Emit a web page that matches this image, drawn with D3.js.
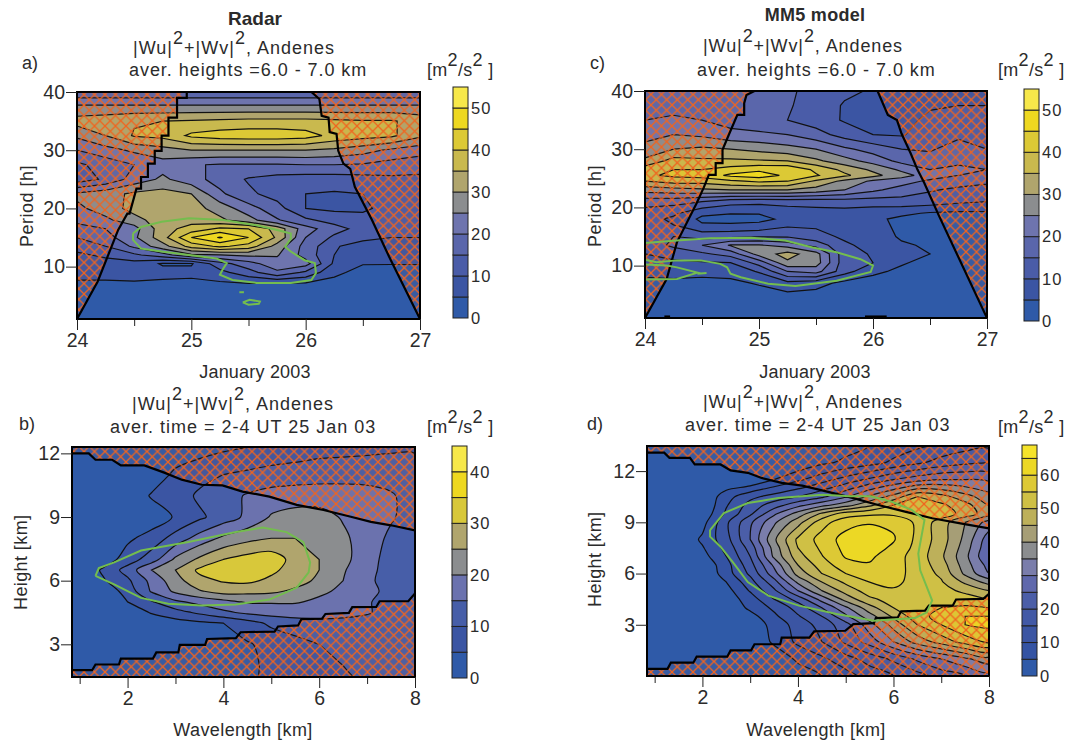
<!DOCTYPE html>
<html>
<head>
<meta charset="utf-8">
<script src="https://cdn.jsdelivr.net/npm/d3@7"></script>
<style>
  html, body { margin: 0; padding: 0; background: #fff; }
  svg { display: block; }
  text { font-family: "Liberation Sans", Arial, sans-serif; fill: #2b2b2b; }
</style>
</head>
<body>
<svg id="chart" width="1065" height="742"></svg>
<script>
// contour levels, [m2/s2]
var levels55 = [0, 5, 10, 15, 20, 25, 30, 35, 40, 45, 50];
var levels45 = [0, 5, 10, 15, 20, 25, 30, 35, 40];
var levels70 = [0, 5, 10, 15, 20, 25, 30, 35, 40, 45, 50, 55, 60, 65];

var colors55 = ["#2f5aa8", "#3b55a3", "#4a5ca8", "#5a66ab", "#6e74ae", "#8b8d8f", "#b0a56d", "#c9b94e", "#dcc935", "#eed820", "#f7e84a"];
var colors45 = ["#2f5aa8", "#3b55a3", "#475ea8", "#6b72ae", "#8b8d8f", "#b0a56d", "#d8c83a", "#eed820", "#f7e84a"];
var colors70 = ["#2f5aa8", "#3453a3", "#3b55a3", "#4259a6", "#4b5ea8", "#5f68ac", "#7a7dab", "#8b8d8f", "#a69e76", "#bdb05a", "#cfc045", "#ddc935", "#ecd825", "#f5e32a"];

// time axis of the two upper panels
var days = [24, 24.25, 24.5, 24.75, 25, 25.25, 25.5, 25.75, 26, 26.25, 26.5, 26.75, 27];
var dayTicks = [24, 25, 26, 27];
var dayMinorTicks = [24.5, 25.5, 26.5];
var periodTicks = [10, 20, 30, 40];

// a) radar, period vs time
var periodsA = [40, 37.5, 35, 32.5, 30, 27.5, 25, 22.5, 20, 18, 16.5, 15, 13.5, 12, 10.5, 9, 7, 4, 1];
var gridA = [
  [16, 16, 16, 16, 16, 16, 16, 16, 16, 16, 16, 16, 16],
  [26, 26, 26, 26, 26, 26, 26, 26, 26, 26, 26, 26, 26],
  [32, 33, 34.5, 35, 35.5, 36, 36.5, 36.5, 36.5, 36, 35.5, 35.5, 33],
  [26, 30, 35.5, 36.5, 41, 42.5, 43, 43, 42, 38.5, 37, 36, 31],
  [20, 23, 26, 28, 30, 30, 30, 30, 30, 29, 27, 24, 22],
  [14, 17, 20, 23, 20.5, 19.5, 19.5, 19.5, 20, 20, 19.5, 18, 17],
  [12, 16, 22, 26, 22, 18, 14.5, 13, 12.5, 12.5, 13, 14, 14],
  [26, 28, 31, 32, 30, 21, 16, 13, 10, 9.5, 10, 12, 13],
  [24, 27, 32, 33, 32, 28, 22, 17, 10, 9, 9.5, 11, 12],
  [22, 24, 28, 33, 33, 31, 27, 20.5, 16, 13, 11, 11, 11],
  [17, 20, 23, 33, 37, 41, 40, 33, 22, 17, 13, 11, 11],
  [15, 18, 24, 33, 45, 50.5, 45, 34, 20, 14, 12.5, 10, 10],
  [12, 15, 21, 28, 37, 41, 38, 28, 18, 11, 6, 8, 9],
  [9, 11, 14, 18, 24, 25, 26, 25.5, 18, 10, 7, 8, 8],
  [8, 8, 8, 4.5, 4.5, 13, 18, 23, 22, 9, 5.2, 5.2, 5.2],
  [7, 7, 6.5, 6.5, 6.5, 8.5, 13, 19, 14, 6, 3.5, 3, 3],
  [4, 4, 4.5, 4, 3.5, 4, 4.5, 4, 4, 3.5, 2.5, 2.5, 2.5],
  [2, 2, 2, 2, 2, 2, 2, 2, 2, 2, 2, 2, 2],
  [1, 1, 1, 1, 1, 1, 1, 1, 1, 1, 1, 1, 1]
];
var coneA = [[24, 1], [24.18, 7.4], [24.36, 16.3], [24.44, 19.1], [24.46, 19.1], [24.52, 23.4], [24.56, 23.4], [24.56, 25.4], [24.62, 25.4], [24.62, 27.7], [24.68, 27.7], [24.68, 29.9], [24.74, 29.9], [24.74, 32.5], [24.8, 32.5], [24.8, 35.6], [24.875, 35.6], [24.875, 39], [24.96, 39], [24.96, 40],
  [26.05, 40], [26.12, 38.8], [26.14, 35.9], [26.2, 35.6], [26.21, 33.1], [26.27, 32.8], [26.285, 29.9], [26.33, 27.7], [26.39, 26.8], [26.43, 23.7], [26.58, 18], [26.73, 11.7], [27, 1]];
var signifA = [
  [[24.49, 15.7], [24.56, 16.8], [24.74, 17.7], [24.98, 18.3], [25.28, 18], [25.57, 17.1], [25.75, 16.3], [25.87, 15.7], [25.87, 14.8], [25.82, 13.4], [25.87, 12.6], [25.99, 11.1], [26.08, 10.6], [26.09, 8.9], [26.05, 7.7], [25.87, 7.2], [25.57, 7.2], [25.36, 7.7], [25.25, 8.6], [25.28, 9.7], [25.31, 10.6], [25.22, 11.4], [24.98, 12], [24.74, 12.6], [24.56, 13.1], [24.49, 14.6], [24.49, 15.7]],
  [[25.45, 3.85], [25.51, 4.3], [25.6, 4], [25.59, 3.6], [25.5, 3.45], [25.45, 3.85]],
  [[25.42, 5.6], [25.46, 5.6]]
];

// c) MM5 model, period vs time
var periodsC = [40, 37.5, 35, 32.5, 30, 28, 26.5, 25.5, 24.5, 23, 21, 19, 18, 17, 15, 13.5, 12, 10.5, 9, 7, 4, 1];
var gridC = [
  [17, 17, 17, 17, 17, 15.5, 14, 11, 9.5, 8.5, 8.5, 8.5, 8.5],
  [18, 18, 17.5, 17, 16.5, 15.5, 13, 9.5, 8, 8, 9.5, 10, 10],
  [20, 21, 20, 18, 16.5, 15, 12.5, 9.5, 8, 8.5, 11, 12, 12.5],
  [23, 25, 24, 21.5, 21, 20, 17, 13, 10, 9.5, 13, 14, 14],
  [27, 30, 31, 30, 28.5, 27, 25, 21, 18, 15, 14.5, 17, 15],
  [31, 37, 36, 36, 35.5, 35, 31, 27, 23, 18.5, 17, 19, 19],
  [38, 40, 40, 42, 44, 44, 39, 33.5, 29, 24, 20, 21, 20],
  [39, 41, 42, 46, 47.5, 44, 40.5, 36, 31.5, 27, 22.5, 20, 18],
  [35, 37, 37, 39, 41, 40, 34, 28.5, 24, 22, 19, 17, 16],
  [27, 28, 29, 30, 30, 30, 28, 25, 21, 18, 15.5, 14, 13],
  [17, 17, 15, 12, 11.5, 12, 12, 12.5, 12.5, 13, 12.5, 11, 10],
  [13, 11, 6, 5.2, 5.2, 7, 8, 8, 7, 6, 4.5, 4, 4],
  [12, 9, 4, 3.5, 3.8, 6, 8, 8, 6, 4, 3.5, 3, 3],
  [13, 10, 5.5, 5.5, 6, 9, 9, 8, 6.5, 4, 3, 3, 3],
  [14, 15, 13, 13.5, 14.5, 14.5, 12, 9, 7, 4.5, 3, 3, 3],
  [12, 16, 20, 25.5, 25.5, 23, 18, 11, 8, 5.5, 4.5, 3.5, 3],
  [10, 12, 14, 17, 27, 32, 27, 12, 9.5, 7, 5, 3.5, 3],
  [7, 9, 9.5, 10, 17, 29, 27.5, 12, 10, 5.5, 3.5, 3, 3],
  [7, 7.5, 6.5, 7, 10.5, 20, 22, 12, 6, 4, 3, 3, 3],
  [3, 3.5, 3.5, 3.8, 5.5, 8.5, 7, 3.5, 3, 3, 3, 3, 3],
  [1.5, 1.5, 1.5, 1.5, 1.5, 1.5, 1.5, 1.5, 1.5, 1.5, 1.5, 1.5, 1.5],
  [1, 1, 1, 1, 1, 1, 1, 1, 1, 1, 1, 1, 1]
];
var coneC = [[24, 1], [24.19, 7.7], [24.28, 14], [24.455, 20.8], [24.515, 23.4], [24.56, 25.6], [24.62, 25.6], [24.62, 27.6], [24.68, 27.6], [24.68, 29.9], [24.74, 32.7], [24.81, 35.9], [24.87, 35.9], [24.87, 37.9], [24.89, 39.3], [24.96, 40],
  [26.04, 40], [26.13, 35.9], [26.21, 35], [26.25, 32.7], [26.33, 29.3], [26.39, 26.5], [26.45, 24.2], [26.58, 18.5], [27, 1]];
// two short black slivers sitting on the time axis
var sliversC = [[[24.17, 1.25], [24.22, 1.25]], [[25.93, 1.25], [26.12, 1.25]]];
var signifC = [
  [[24, 13.9], [24.28, 14.3], [24.57, 14.7], [24.93, 14.8], [25.23, 14.3], [25.47, 13.1], [25.68, 12.3], [25.89, 11.1], [26, 10], [25.98, 8.9], [25.68, 7.4], [25.32, 6.5], [25.08, 6.9], [24.84, 8], [24.75, 8.6], [24.72, 9.7], [24.66, 10.3], [24.49, 10.9], [24.28, 10.9], [24.1, 10.6], [24, 11]],
  [[24, 10.2], [24.19, 10], [24.28, 9.7], [24.46, 8.8], [24.28, 7.7], [24, 7.6]],
  [[24.46, 8.6], [24.54, 8.75]]
];

// wavelength axis of the two lower panels
var wavelengths = [0.5, 1, 1.5, 2, 2.5, 3, 3.5, 4, 4.5, 5, 5.5, 6, 6.5, 7, 7.5, 8];
var wavelengthTicks = [2, 4, 6, 8];
var wavelengthMinorTicks = [1, 3, 5, 7];
var heightTicks = [3, 6, 9, 12];

// b) radar, height vs wavelength
var heightsB = [12.5, 11, 10, 9, 8, 7, 6.5, 6, 5.5, 5, 4.5, 4, 3, 2, 1.4];
var gridB = [
  [0, 0, 0, 0, 1, 1, 2, 3, 4, 5, 6, 7, 7.5, 8, 8.5, 9],
  [0, 0, 0, 1, 2, 6, 8, 10, 11, 12, 12.5, 13, 13, 13, 13, 12],
  [0, 0, 0, 1, 5.5, 7, 11, 13, 15.5, 17, 17.5, 17.5, 17.5, 17, 15.5, 13],
  [0, 0, 0, 0.5, 2, 5.5, 9, 12.5, 16, 20.5, 22, 22, 19.5, 17.5, 15.5, 13],
  [0, 0, 0, 4, 7, 12, 17, 21, 23.5, 25, 25, 23, 21, 17.5, 14, 11.5],
  [0, 0, 2, 7.5, 12.5, 21, 26, 30, 32, 33, 28, 25, 21.5, 17, 13, 11],
  [0, 0, 6, 12, 20, 25, 31, 33, 33.5, 31, 28, 25, 20.5, 16.5, 13, 11],
  [0, 0, 4.5, 9, 16.5, 23, 28.5, 30.5, 31, 29, 27, 24, 20, 16, 13, 11],
  [0, 0, 1.5, 7, 15.5, 21, 24.5, 27, 26.5, 26, 24, 21, 19, 17, 13, 11],
  [0, 0, 0, 5, 9.5, 14, 16.5, 18.5, 20.5, 20.5, 20.5, 19, 17, 15.5, 13, 11],
  [0, 0, 0, 1, 5.5, 8, 11, 14, 16, 17, 17, 16.5, 16, 15.5, 13, 11],
  [0, 0, 0, 0, 1, 3, 4, 5, 8, 11, 13, 14, 14, 13, 12, 11],
  [0, 0, 0, 0, 0, 1, 2, 3, 4.5, 6.5, 8, 10, 11, 11, 11, 11],
  [0, 0, 0, 0, 0, 0, 1, 3, 4.5, 5.5, 7, 8, 10, 10.5, 11, 11],
  [0, 0, 0, 0, 0, 0, 1, 3, 4.5, 5.5, 7, 8, 9.5, 10.5, 11, 11]
];
var coneTopB = [[0.84, 12], [1.19, 12], [1.33, 11.7], [1.68, 11.7], [1.86, 11.43], [2.35, 11.43], [2.78, 11.08], [3.13, 10.76], [3.55, 10.52], [3.98, 10.49], [4.4, 10.2], [4.96, 9.96], [5.53, 9.57], [6.09, 9.33], [6.66, 9.01], [7.08, 8.77], [7.5, 8.61], [8, 8.37]];
var coneBottomB = [[8, 5.4], [7.86, 5.03], [7.26, 5.03], [7.19, 4.76], [6.69, 4.75], [6.62, 4.48], [6.13, 4.43], [6.06, 4.21], [5.63, 4.19], [5.56, 3.89], [5.14, 3.84], [5.07, 3.6], [4.36, 3.57], [4.26, 3.29], [3.66, 3.25], [3.62, 2.97], [3.09, 2.97], [3.06, 2.62], [2.6, 2.62], [2.53, 2.33], [1.86, 2.33], [1.82, 2.05], [1.33, 2.05], [1.26, 1.78], [0.84, 1.78]];
var signifB = [
  [[1.33, 6.23], [1.4, 6.59], [1.72, 6.86], [2.28, 7.42], [3.27, 7.82], [4.26, 8.29], [4.82, 8.5], [5.32, 8.29], [5.67, 7.82], [5.81, 6.86], [5.78, 6.39], [5.53, 5.67], [4.96, 5.11], [4.26, 4.88], [3.55, 4.83], [2.85, 4.91], [2.28, 5.19], [1.72, 5.83], [1.33, 6.23]]
];

// d) MM5 model, height vs wavelength
var heightsD = [13.5, 12.5, 11.5, 10.5, 10, 9.5, 9, 8, 7.5, 7, 6.5, 6, 5.5, 5, 4.5, 4, 3.5, 3, 2, 1, 0];
var gridD = [
  [0, 0, 0, 0, 0, 0, 0, 0, 1, 3, 5, 7, 9, 11, 13, 14],
  [0, 0, 0, 0, 0, 0, 0, 1, 4, 6, 8, 11, 14, 17, 19, 20],
  [0, 0, 0, 0, 0, 0, 5, 9, 13, 17, 21, 25, 28, 30, 30, 29],
  [0, 0, 0, 0, 8, 13.6, 17, 20, 24, 29.5, 36, 42, 50, 47, 42, 37],
  [0, 0, 0, 0, 9.5, 17, 22.5, 28.5, 33.5, 38, 44, 50, 51, 51, 47, 40],
  [0, 0, 0, 1, 11, 19, 29, 37, 46, 52.5, 54, 54, 54.5, 53, 48, 42],
  [0, 0, 0, 3, 14, 24, 34, 43, 53, 58, 59.5, 59, 54, 47.5, 40, 33],
  [0, 0, 0, 6, 13, 25, 39, 51, 57, 62, 63.5, 60.5, 53.7, 47.5, 38.6, 27],
  [0, 0, 0, 4.5, 11.5, 22, 37, 50, 56, 61.5, 62.5, 59, 53.3, 46.8, 37.5, 26],
  [0, 0, 0, 3, 10, 20, 36, 48, 54.7, 60.5, 61, 57, 53, 46, 36.5, 25],
  [0, 0, 0, 1, 8, 18, 31, 45, 52.5, 58, 59.5, 57, 53, 47.5, 37.5, 28],
  [0, 0, 0, 0, 7.7, 16, 28, 42, 50, 55, 57.5, 57, 53, 49, 39, 30],
  [0, 0, 0, 0, 5, 13, 23, 36, 45, 51, 55, 56, 53.5, 50.5, 44, 38],
  [0, 0, 0, 0, 3, 10.5, 19, 30, 40, 47, 52.5, 54.5, 53.5, 51.5, 49, 45],
  [0, 0, 0, 0, 2, 7.5, 15, 22, 32, 42, 49, 52, 52, 54, 52, 50],
  [0, 0, 0, 0, 0, 6.3, 11, 17, 25, 34, 43, 50, 54, 55, 56, 55],
  [0, 0, 0, 0, 0, 3, 9, 14.5, 20, 29, 38, 46, 53, 57, 60, 60],
  [0, 0, 0, 0, 0, 1, 7, 12, 17, 23, 33, 42, 50, 55, 60, 61],
  [0, 0, 0, 0, 0, 0, 6, 11, 15, 21, 27, 35, 42, 47, 52, 56],
  [0, 0, 0, 0, 0, 0, 1, 6, 9, 13, 17, 21, 26, 30, 34, 38],
  [0, 0, 0, 0, 0, 0, 0, 2, 5, 8, 12, 15, 18, 22, 25, 28]
];
var coneTopD = [[0.84, 13.08], [1.2, 13.08], [1.31, 12.78], [1.74, 12.78], [1.84, 12.39], [2.38, 12.39], [2.59, 12.04], [2.95, 11.9], [3.24, 11.6], [3.66, 11.31], [4.09, 11.15], [4.59, 10.81], [5.16, 10.42], [5.66, 10.03], [6.24, 9.63], [6.81, 9.24], [7.46, 8.91], [8, 8.65]];
var coneBottomD = [[8, 4.81], [7.88, 4.52], [7.31, 4.48], [7.24, 4.12], [6.74, 4.12], [6.66, 3.83], [6.16, 3.79], [6.09, 3.43], [5.63, 3.39], [5.59, 3.1], [5.16, 3.04], [4.99, 2.65], [4.34, 2.61], [4.24, 2.25], [3.66, 2.25], [3.63, 1.86], [3.09, 1.86], [3.02, 1.5], [2.59, 1.5], [2.52, 1.13], [1.88, 1.13], [1.81, 0.78], [1.34, 0.78], [1.27, 0.42], [0.84, 0.42]];
var signifD = [
  [[2.16, 8.55], [2.45, 9.54], [2.95, 10.13], [3.59, 10.42], [4.52, 10.62], [5.09, 10.52], [5.52, 10.52], [5.95, 10.22], [6.38, 9.73], [6.65, 9.14], [6.52, 7.17], [6.56, 6.19], [6.81, 4.42], [6.7, 3.73], [6.45, 3.39], [5.59, 3.24], [4.81, 3.63], [4.02, 4.12], [3.38, 4.71], [2.95, 5.5], [2.66, 6.58], [2.38, 7.57], [2.16, 8.16], [2.16, 8.55]]
];

var barTicksA = [0, 10, 20, 30, 40, 50];
var barTicksB = [0, 10, 20, 30, 40];
var barTicksD = [0, 10, 20, 30, 40, 50, 60];

var svg = d3.select("#chart");
var defs = svg.append("defs");

var hatch = defs.append("pattern")
  .attr("id", "hatch")
  .attr("patternUnits", "userSpaceOnUse")
  .attr("width", 10.5)
  .attr("height", 10.5);
hatch.append("rect").attr("width", 10.5).attr("height", 10.5).attr("fill", "#e8702a").attr("fill-opacity", 0.05);
hatch.append("path")
  .attr("d", "M0,0L10.5,10.5M10.5,0L0,10.5")
  .attr("stroke", "#f0641e")
  .attr("stroke-width", 1.3)
  .attr("fill", "none");

function drawPanel(p) {
  var g = svg.append("g");
  var x = d3.scaleLinear().domain(p.xDomain).range([p.left, p.right]);
  var y = d3.scaleLinear().domain(p.yDomain).range([p.bottom, p.top]);

  // grid index -> data value, the rows are not evenly spaced
  var gx = d3.scaleLinear().domain(d3.range(p.cols.length)).range(p.cols);
  var gy = d3.scaleLinear().domain(d3.range(p.rows.length)).range(p.rows);

  var ringLine = d3.line()
    .x(function(d) { return x(gx(d[0] - 0.5)); })
    .y(function(d) { return y(gy(d[1] - 0.5)); })
    .curve(p.smooth ? d3.curveCatmullRomClosed.alpha(0.5) : d3.curveLinearClosed);

  function contourPath(c) {
    return c.coordinates.map(function(polygon) {
      return polygon.map(function(ring) {
        return ringLine(ring.slice(0, -1));
      }).join("");
    }).join("");
  }

  var clipId = "clip-" + p.name;
  defs.append("clipPath").attr("id", clipId)
    .append("rect")
    .attr("x", p.left).attr("y", p.top)
    .attr("width", p.right - p.left).attr("height", p.bottom - p.top);

  var contours = d3.contours()
    .size([p.cols.length, p.rows.length])
    .thresholds(p.levels)(d3.merge(p.grid));

  var plot = g.append("g").attr("clip-path", "url(#" + clipId + ")");

  plot.selectAll("path.band")
    .data(contours)
    .enter()
    .append("path")
    .attr("class", "band")
    .attr("d", contourPath)
    .attr("fill", function(d, i) { return p.colors[i]; })
    .attr("stroke", "#111")
    .attr("stroke-width", 1.2);

  // area outside the cone of influence
  var line = d3.line()
    .x(function(d) { return x(d[0]); })
    .y(function(d) { return y(d[1]); });

  var outer = "M" + p.left + "," + p.top + "H" + p.right + "V" + p.bottom + "H" + p.left + "Z";
  plot.append("path")
    .attr("d", outer + line(p.cone) + "Z")
    .attr("fill-rule", "evenodd")
    .attr("fill", "url(#hatch)");

  plot.selectAll("path.edge")
    .data(p.coneEdges)
    .enter()
    .append("path")
    .attr("class", "edge")
    .attr("d", line)
    .attr("fill", "none")
    .attr("stroke", "#000")
    .attr("stroke-width", 2.2);

  plot.selectAll("path.signif")
    .data(p.signif)
    .enter()
    .append("path")
    .attr("class", "signif")
    .attr("d", line)
    .attr("fill", "none")
    .attr("stroke", "#74bd4e")
    .attr("stroke-width", 2);

  g.append("rect")
    .attr("x", p.left).attr("y", p.top)
    .attr("width", p.right - p.left).attr("height", p.bottom - p.top)
    .attr("fill", "none")
    .attr("stroke", "#000")
    .attr("stroke-width", 2);

  // axes
  var xAxis = d3.axisBottom(x).tickValues(p.xTicks).tickSize(11).tickSizeOuter(0).tickPadding(3).tickFormat(d3.format("d"));
  var xMinor = d3.axisBottom(x).tickValues(p.xMinor).tickSize(7).tickSizeOuter(0).tickFormat("");
  var yAxis = d3.axisLeft(y).tickValues(p.yTicks).tickSize(11).tickSizeOuter(0).tickPadding(1).tickFormat(d3.format("d"));

  g.append("g").attr("transform", "translate(0," + p.bottom + ")").call(xMinor).call(styleAxis);
  g.append("g").attr("transform", "translate(0," + p.bottom + ")").call(xAxis).call(styleAxis);
  g.append("g").attr("transform", "translate(" + p.left + ",0)").call(yAxis).call(styleAxis);

  // colour bar
  var bar = d3.scaleLinear().domain([0, p.barMax]).range([p.barBottom, p.barTop]);
  function bandTop(d, i) { return bar(i + 1 < p.levels.length ? p.levels[i + 1] : p.barMax); }

  g.selectAll("rect.swatch")
    .data(p.levels)
    .enter()
    .append("rect")
    .attr("class", "swatch")
    .attr("x", p.barLeft)
    .attr("width", 15)
    .attr("y", bandTop)
    .attr("height", function(d, i) { return bar(d) - bandTop(d, i); })
    .attr("fill", function(d, i) { return p.colors[i]; })
    .attr("stroke", "#222")
    .attr("stroke-width", 1);

  var barAxis = d3.axisRight(bar).tickValues(p.barTicks).tickSize(0).tickPadding(18).tickFormat(d3.format("d"));
  g.append("g").attr("transform", "translate(" + p.barLeft + ",0)").call(barAxis)
    .call(function(a) {
      a.attr("font-family", null);
      a.select(".domain").remove();
      a.selectAll("text").attr("font-size", 16.5).attr("letter-spacing", 1);
    });
}

function styleAxis(a) {
  a.attr("font-family", null);
  a.select(".domain").attr("stroke", "#000").attr("stroke-width", 1);
  a.selectAll("line").attr("stroke", "#222");
  a.selectAll("text").attr("font-size", 19.5);
}

// title line with raised squares: parts alternate plain text and superscript
function label(str, px, py, opts) {
  opts = opts || {};
  var t = svg.append("text")
    .attr("x", px).attr("y", py)
    .attr("font-size", opts.size || 18)
    .attr("text-anchor", opts.anchor || "start")
    .attr("font-weight", opts.bold ? "bold" : null)
    .attr("letter-spacing", opts.spacing || null);
  if (opts.rotate) { t.attr("transform", "rotate(-90 " + px + " " + py + ")"); }

  str.split("^").forEach(function(part, i) {
    var span = t.append("tspan").text(part);
    if (i % 2 === 1) {
      span.attr("dy", -10);
    }
    else if (i > 0) {
      span.attr("dy", 10);
    }
  });
}

drawPanel({
  name: "a", cols: days, rows: periodsA, grid: gridA, levels: levels55, colors: colors55,
  xDomain: [24, 27], yDomain: [1, 40], left: 77, right: 420, top: 92, bottom: 319,
  cone: coneA, coneEdges: [coneA], signif: signifA, smooth: false,
  xTicks: dayTicks, xMinor: dayMinorTicks, yTicks: periodTicks,
  barLeft: 453, barTop: 87, barBottom: 318, barMax: 55, barTicks: barTicksA
});
drawPanel({
  name: "c", cols: days, rows: periodsC, grid: gridC, levels: levels55, colors: colors55,
  xDomain: [24, 27], yDomain: [1, 40], left: 645, right: 987, top: 91, bottom: 318,
  cone: coneC, coneEdges: [coneC].concat(sliversC), signif: signifC, smooth: false,
  xTicks: dayTicks, xMinor: dayMinorTicks, yTicks: periodTicks,
  barLeft: 1024, barTop: 89, barBottom: 321, barMax: 55, barTicks: barTicksA
});
drawPanel({
  name: "b", cols: wavelengths, rows: heightsB, grid: gridB, levels: levels45, colors: colors45,
  xDomain: [0.84, 8], yDomain: [1.46, 12.3], left: 72, right: 415, top: 447, bottom: 677,
  cone: coneTopB.concat(coneBottomB), coneEdges: [coneTopB, coneBottomB], signif: signifB, smooth: true,
  xTicks: wavelengthTicks, xMinor: wavelengthMinorTicks, yTicks: heightTicks,
  barLeft: 452, barTop: 446, barBottom: 678, barMax: 45, barTicks: barTicksB
});
drawPanel({
  name: "d", cols: wavelengths, rows: heightsD, grid: gridD, levels: levels70, colors: colors70,
  xDomain: [0.84, 8], yDomain: [0, 13.47], left: 647, right: 989, top: 446, bottom: 676,
  cone: coneTopD.concat(coneBottomD), coneEdges: [coneTopD, coneBottomD], signif: signifD, smooth: true,
  xTicks: wavelengthTicks, xMinor: wavelengthMinorTicks, yTicks: heightTicks,
  barLeft: 1022, barTop: 445, barBottom: 676, barMax: 69, barTicks: barTicksD
});

var waveTitle = "|Wu|^2^+|Wv|^2^, Andenes";
var units = "[m^2^/s^2^ ]";

label("Radar", 255, 25, { bold: true, size: 19, anchor: "middle" });
label(waveTitle, 133, 54, { spacing: 1 });
label("aver. heights =6.0 - 7.0 km", 129, 76, { spacing: 0.95 });
label("a)", 22, 69, { size: 18 });
label(units, 427, 76, { spacing: 0.3 });
label("Period [h]", 33, 247, { rotate: true, spacing: 0.5 });
label("January 2003", 255, 378, { anchor: "middle", spacing: 0.2 });

label("MM5 model", 815, 21, { bold: true, size: 18, anchor: "middle", spacing: 0.3 });
label(waveTitle, 703, 52, { spacing: 0.9 });
label("aver. heights =6.0 - 7.0 km", 697, 76, { spacing: 0.97 });
label("c)", 590, 69, { size: 18 });
label(units, 998, 76, { spacing: 0.3 });
label("Period [h]", 601, 247, { rotate: true, spacing: 0.5 });
label("January 2003", 815, 378, { anchor: "middle", spacing: 0.2 });

label(waveTitle, 132, 410, { spacing: 1 });
label("aver. time = 2-4 UT 25 Jan 03", 110, 433, { spacing: 1 });
label("b)", 19, 430, { size: 18 });
label(units, 427, 433, { spacing: 0.3 });
label("Height [km]", 27, 610, { rotate: true, spacing: 0.4 });
label("Wavelength [km]", 243, 736, { anchor: "middle", spacing: 0.4 });

label(waveTitle, 703, 408, { spacing: 0.9 });
label("aver. time = 2-4 UT 25 Jan 03", 685, 431, { spacing: 0.97 });
label("d)", 587, 430, { size: 18 });
label(units, 998, 433, { spacing: 0.3 });
label("Height [km]", 601, 607, { rotate: true, spacing: 0.4 });
label("Wavelength [km]", 816, 736, { anchor: "middle", spacing: 0.4 });
</script>
</body>
</html>
